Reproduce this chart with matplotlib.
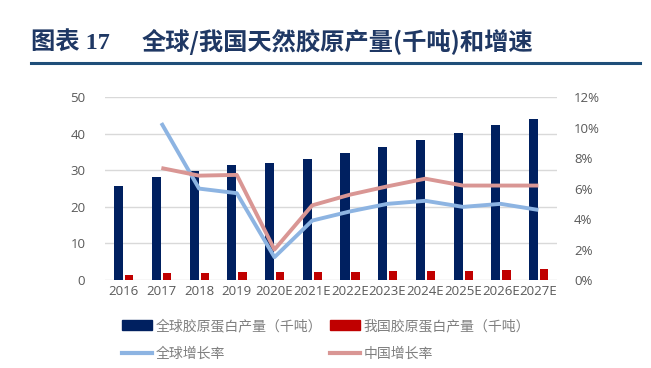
import matplotlib.pyplot as plt
from matplotlib.lines import Line2D
from matplotlib.patches import Patch
import numpy as np

plt.rcParams['font.family'] = ['Open Sans', 'Noto Sans CJK SC', 'DejaVu Sans']

years = ['2016', '2017', '2018', '2019', '2020E', '2021E', '2022E',
         '2023E', '2024E', '2025E', '2026E', '2027E']
global_output = [25.6, 28.2, 29.7, 31.4, 32.1, 33.2, 34.7, 36.4, 38.4, 40.2, 42.3, 44.1]
china_output = [1.5, 1.8, 1.8, 2.1, 2.1, 2.3, 2.3, 2.4, 2.5, 2.5, 2.7, 3.0]
# growth rates start from 2017
global_growth = [10.3, 6.0, 5.7, 1.5, 3.9, 4.5, 5.0, 5.2, 4.8, 5.0, 4.6]
china_growth = [7.35, 6.85, 6.9, 2.0, 4.9, 5.6, 6.15, 6.65, 6.2, 6.2, 6.2]

navy = '#002060'
red = '#C00000'
lblue = '#8DB4E2'
pink = '#D99694'
grey = '#595959'

fig = plt.figure(figsize=(6.51, 3.68), dpi=100)

# title and rule
fig.text(0.048, 0.885, '图表 17', fontsize=17.5, fontweight='bold', color='#1F3864',
         family=['Liberation Serif', 'Noto Sans CJK SC'], va='center')
fig.text(0.218, 0.885, '全球/我国天然胶原产量(千吨)和增速', fontsize=17.5, fontweight='bold',
         color='#1F3864', family=['Noto Sans CJK SC'], va='center')
fig.add_artist(Line2D([0.047, 0.983], [0.830, 0.830], color='#1F4E79', lw=2.2))

ax = fig.add_axes([0.161, 0.239, 0.695, 0.497])
x = np.arange(len(years))
ax.bar(x - 0.13, global_output, width=0.24, color=navy, zorder=2)
ax.bar(x + 0.15, china_output, width=0.22, color=red, zorder=2)
ax.set_xlim(-0.5, len(years) - 0.5)
ax.set_ylim(0, 50)
ax.set_yticks(range(0, 51, 10))
ax.yaxis.grid(True, color='#D9D9D9', lw=1)
ax.set_axisbelow(True)
ax.set_xticks(x)
ax.set_xticklabels(years)
for s in ax.spines.values():
    s.set_visible(False)
ax.tick_params(length=0, colors=grey, labelsize=9.5)
ax.tick_params(axis='y', pad=14)

ax2 = ax.twinx()
ax2.plot(x[1:], global_growth, color=lblue, lw=2.8, solid_capstyle='butt')
ax2.plot(x[1:], china_growth, color=pink, lw=2.8, solid_capstyle='butt')
ax2.set_ylim(0, 12)
ax2.set_yticks(range(0, 13, 2))
ax2.set_yticklabels([f'{v}%' for v in range(0, 13, 2)])
for s in ax2.spines.values():
    s.set_visible(False)
ax2.tick_params(length=0, colors=grey, labelsize=9.5, pad=12)

handles = [Patch(color=navy), Line2D([], [], color=lblue, lw=3),
           Patch(color=red), Line2D([], [], color=pink, lw=3)]
labels = ['全球胶原蛋白产量（千吨）', '全球增长率', '我国胶原蛋白产量（千吨）', '中国增长率']
leg = fig.legend(handles, labels, ncol=2, loc='upper left', bbox_to_anchor=(0.187, 0.133),
                 frameon=False, handlelength=2.2, handletextpad=0.25,
                 columnspacing=0.55, labelspacing=1.0, borderaxespad=0, borderpad=0,
                 prop={'family': ['Noto Sans CJK SC'], 'size': 10})
for t in leg.get_texts():
    t.set_color('#7F7F7F')

fig.savefig('out.png', dpi=100)
